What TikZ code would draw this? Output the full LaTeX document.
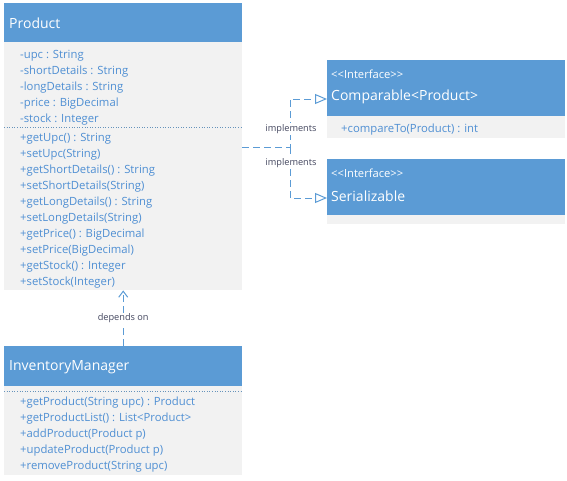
\documentclass[tikz,border=0pt]{standalone}
\usepackage{fontspec}
\setmainfont{Open Sans}[Ligatures=TeXOff]
\usetikzlibrary{arrows.meta,positioning}
\definecolor{umlblue}{HTML}{5B9BD5}
\definecolor{umlgray}{HTML}{F2F2F2}
\definecolor{membertext}{HTML}{4F8FD3}
\definecolor{labeltext}{HTML}{43465E}
\tikzset{
        headbox/.style = {rectangle, anchor=north west, fill=umlblue,
            minimum width=238pt, inner sep=0pt},
        bodybox/.style = {rectangle, anchor=north west, fill=umlgray,
            minimum width=238pt, inner sep=0pt},
        classname/.style = {anchor=west, inner sep=0pt, text=white,
            font=\fontsize{14}{16}\selectfont},
        stereo/.style = {anchor=west, inner sep=0pt, text=white,
            font=\fontsize{11.2}{13}\selectfont},
        members/.style = {anchor=west, inner sep=0pt, align=left,
            text=membertext, font=\fontsize{11.3}{16}\selectfont},
        rellabel/.style = {fill=white, inner sep=1pt, text=labeltext,
            font=\fontsize{9.2}{11}\selectfont},
        realize/.style = {draw=umlblue, line width=1pt, dash pattern=on 7pt off 4pt,
            -{Triangle[open, length=12pt, width=10pt]}},
        depend/.style = {draw=umlblue, line width=1pt, dash pattern=on 7pt off 4pt,
            -{Straight Barb[length=6pt, width=9pt]}},
        sepline/.style = {draw=umlblue!70!gray, dotted, line width=0.6pt}
    }
\begin{document}
\begin{tikzpicture}[x=1pt, y=-1pt]
    \useasboundingbox (0,0) rectangle (567,480);
    % Product class
    \node [headbox, minimum height=39pt] (prodhead) at (4,3) {};
    \node [bodybox, minimum height=248pt] (prodbody) at (4,42) {};
    \node [classname] (prodname) at (9,23) {Product};
    \node [members] (prodattr) at (20,88) {-upc : String\\-shortDetails : String\\-longDetails : String\\-price : BigDecimal\\-stock : Integer};
    \draw [sepline] ([yshift=-85pt]prodbody.north west) -- ([yshift=-85pt]prodbody.north east);
    \node [members] (prodops) at (20,211) {+getUpc() : String\\+setUpc(String)\\+getShortDetails() : String\\+setShortDetails(String)\\+getLongDetails() : String\\+setLongDetails(String)\\+getPrice() : BigDecimal\\+setPrice(BigDecimal)\\+getStock() : Integer\\+setStock(Integer)};
    % interfaces
    \node [headbox, minimum height=56pt] (comphead) at (327,60) {};
    \node [bodybox, minimum height=22pt] (compbody) at (327,116) {};
    \node [stereo] (compstereo) at (331,74) {<<Interface>>};
    \node [classname] (compname) at (331,97) {Comparable<Product>};
    \node [members] (compops) at (341,130) {+compareTo(Product) : int};
    \node [headbox, minimum height=56pt] (serhead) at (327,159) {};
    \node [bodybox, minimum height=9pt] (serbody) at (327,215) {};
    \node [stereo] (serstereo) at (331,173) {<<Interface>>};
    \node [classname] (sername) at (331,196) {Serializable};
    % InventoryManager class
    \node [headbox, minimum height=40pt] (imhead) at (4,346) {};
    \node [bodybox, minimum height=89pt] (imbody) at (4,386) {};
    \node [classname] (imname) at (9,367) {InventoryManager};
    \draw [sepline] ([yshift=-5pt]imbody.north west) -- ([yshift=-5pt]imbody.north east);
    \node [members] (imops) at (20,435) {+getProduct(String upc) : Product\\+getProductList() : List<Product>\\+addProduct(Product p)\\+updateProduct(Product p)\\+removeProduct(String upc)};
    % relations
    \coordinate (implfork) at (290,147);
    \draw [realize] (prodbody.east |- implfork) -- (implfork) |- ([yshift=-2pt]comphead.west |- compname);
    \draw [realize] (implfork) |- ([yshift=-2pt]serhead.west |- sername);
    \node [rellabel] (impllabela) at (291,129) {implements};
    \node [rellabel] (impllabelb) at (291,163) {implements};
    \draw [depend] (imhead.north) -- node [rellabel] (deplabel) {depends on} (prodbody.south);
\end{tikzpicture}
\end{document}
